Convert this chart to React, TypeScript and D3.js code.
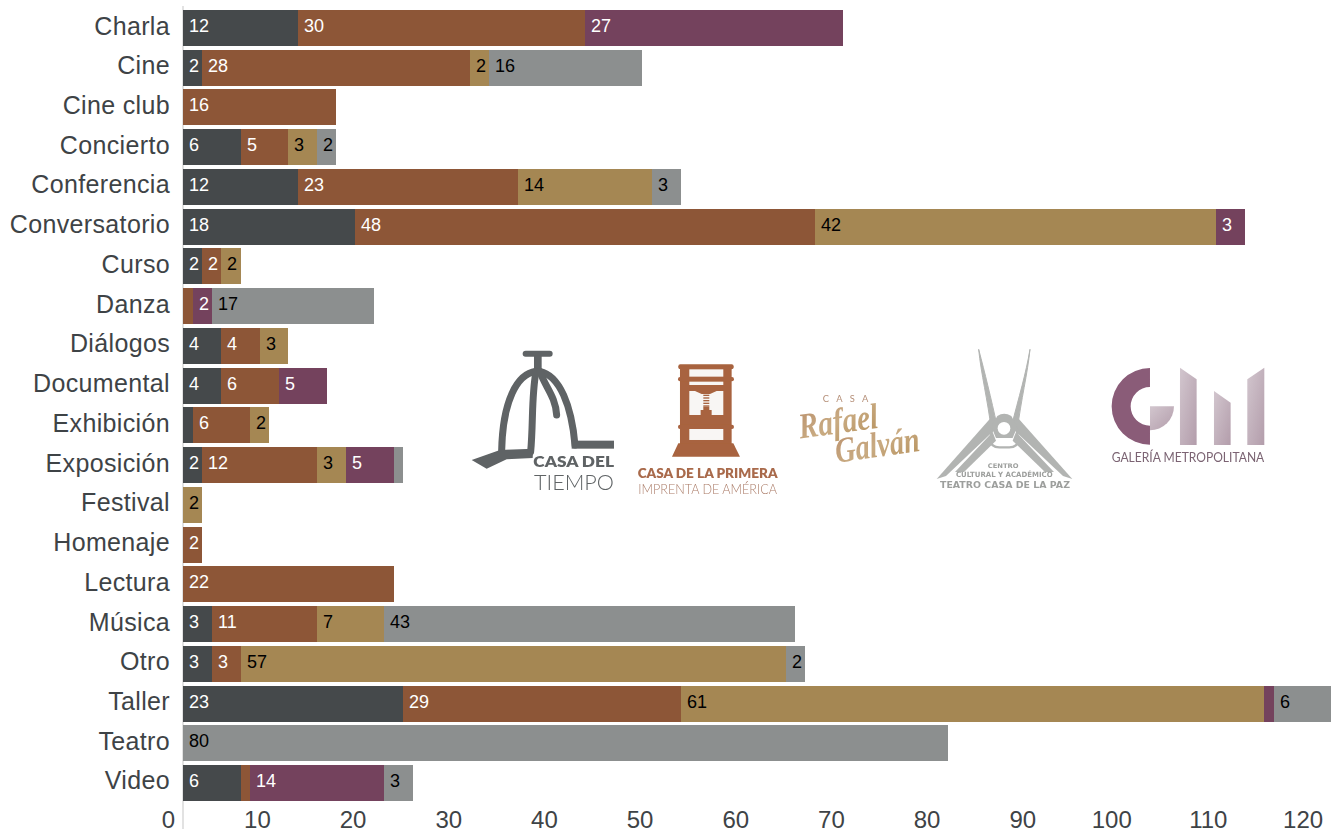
import React from "react";
import * as d3 from "d3";

const categories = ["Charla","Cine","Cine club","Concierto","Conferencia","Conversatorio","Curso","Danza","Diálogos","Documental","Exhibición","Exposición","Festival","Homenaje","Lectura","Música","Otro","Taller","Teatro","Video"];
const casaDelTiempo =   [12,2,0,6,12,18,2,0,4,4,1,2,0,0,0,3,3,23,0,6];
const primeraImprenta = [30,28,16,5,23,48,2,1,4,6,6,12,0,2,22,11,3,29,0,1];
const rafaelGalvan =    [0,2,0,3,14,42,2,0,3,0,2,3,2,0,0,7,57,61,0,0];
const galeria =         [27,0,0,0,0,3,0,2,0,5,0,5,0,0,0,0,0,1,0,14];
const teatroPaz =       [0,16,0,2,3,0,0,17,0,0,0,1,0,0,0,43,2,6,80,3];
const xTicks = [0,10,20,30,40,50,60,70,80,90,100,110,120];
const seriesKeys = ["a","b","c","d","e"];
const seriesColors = ["#45494b","#8d5637","#a58753","#74425d","#8c8f8f"];
const labelColors = ["#ffffff","#ffffff","#000000","#ffffff","#000000"];

const rows = categories.map((c, i) => ({
  category: c,
  a: casaDelTiempo[i], b: primeraImprenta[i], c: rafaelGalvan[i], d: galeria[i], e: teatroPaz[i],
}));

const FONT = "'Liberation Sans', Arial, sans-serif";
const LOGO_FONT = "Lato, 'Open Sans', sans-serif";
const INK = "#3e4346";

function Logos() {
  const g1 = "#5f6365";
  const g2 = "#a8633f";
  const g4 = "#b2b4b2";
  const paper = "#f8f6f4";
  return (
    <g>
      <defs>
        <filter id="soft" x="-5%" y="-5%" width="110%" height="110%"><feGaussianBlur stdDeviation="0.35" /></filter>
        <linearGradient id="gold" x1="0" y1="0" x2="1" y2="1">
          <stop offset="0" stopColor="#b98f6c" /><stop offset="0.5" stopColor="#c9ab82" /><stop offset="1" stopColor="#b6915c" />
        </linearGradient>
        <linearGradient id="mauve" x1="0" y1="0" x2="1" y2="1">
          <stop offset="0" stopColor="#d2c6ce" /><stop offset="1" stopColor="#b39dab" />
        </linearGradient>
      </defs>
      <g filter="url(#soft)">
        <g transform="translate(460,330) scale(0.3333)">
          {/* Casa del Tiempo */}
          <rect x={188} y={62} width={90} height={18} rx={9} fill={g1} />
          <rect x={222} y={78} width={23} height={50} fill={g1} />
          <g fill="none" stroke={g1} strokeWidth={21} strokeLinecap="round">
            <path d="M228 124 C170 132 128 215 125 362" />
            <path d="M238 124 C300 135 335 230 345 345" />
            <path d="M228 125 C214 200 220 280 212 365" />
            <path d="M240 125 C255 170 287 200 290 255" />
          </g>
          <rect x={335} y={332} width={127} height={24} fill={g1} />
          <polygon points="35,390 120,360 220,356 218,384 140,388 80,416" fill={g1} />
          <text x={220} y={412} fontSize={44} fontWeight={800} fill={g1} fontFamily={LOGO_FONT} textLength={242} lengthAdjust="spacingAndGlyphs">CASA DEL</text>
          <text x={222} y={480} fontSize={62} fontWeight={300} fill={g1} fontFamily={LOGO_FONT} textLength={240} lengthAdjust="spacingAndGlyphs">TIEMPO</text>

          {/* Casa de la Primera Imprenta */}
          <rect x={655} y={103} width={166} height={15} rx={6} fill={g2} />
          <rect x={660} y={110} width={155} height={250} fill={g2} />
          <rect x={654} y={141} width={168} height={13} rx={6} fill={g2} />
          <rect x={654} y={284} width={168} height={13} rx={6} fill={g2} />
          <polygon points="655,340 820,340 840,380 636,380" fill={g2} />
          <rect x={688} y={118} width={102} height={22} fill={paper} />
          <rect x={688} y={155} width={102} height={10} fill={paper} />
          <rect x={688} y={183} width={102} height={72} fill={paper} />
          <polygon points="705,183 770,183 750,192 725,192" fill={g2} />
          {[194,202,210,218,226].map((y) => <rect key={y} x={730} y={y} width={18} height={4} fill={g2} />)}
          <rect x={730} y={230} width={18} height={10} fill={g2} />
          <rect x={722} y={240} width={33} height={15} fill={g2} />
          <rect x={688} y={297} width={102} height={33} fill={paper} />
          <text x={533} y={445} fontSize={38} fontWeight={800} fill="#a96a4b" fontFamily={LOGO_FONT} textLength={420} lengthAdjust="spacingAndGlyphs">CASA DE LA PRIMERA</text>
          <text x={535} y={492} fontSize={38} fontWeight={300} fill="#ab7c68" fontFamily={LOGO_FONT} textLength={416} lengthAdjust="spacingAndGlyphs">IMPRENTA DE AMÉRICA</text>

          {/* Casa Rafael Galván */}
          <text x={1088} y={216} fontSize={28} fill="#b58f78" fontFamily={LOGO_FONT} textLength={137} fontWeight={400}>CASA</text>
          <text transform="rotate(-8 1020 320)" x={1020} y={326} fontSize={108} fontWeight={700} fontStyle="italic" fill="url(#gold)" fontFamily="'Liberation Serif', serif" textLength={240} lengthAdjust="spacingAndGlyphs">Rafael</text>
          <text transform="rotate(-8 1130 395)" x={1130} y={398} fontSize={108} fontWeight={700} fontStyle="italic" fill="url(#gold)" fontFamily="'Liberation Serif', serif" textLength={255} lengthAdjust="spacingAndGlyphs">Galván</text>
        </g>

        <g transform="translate(920,330) scale(0.3333)">
          {/* Teatro Casa de la Paz */}
          <path d="M176 58 C195 130 212 200 232 290 L214 300 C203 210 183 130 176 58 Z" fill={g4} stroke={g4} strokeWidth={3} />
          <path d="M330 58 C318 130 297 200 274 290 L292 300 C303 210 323 130 330 58 Z" fill={g4} stroke={g4} strokeWidth={3} />
          <polygon points="50,447 214,262 226,298 78,438" fill={g4} />
          <polygon points="457,447 292,262 280,298 429,438" fill={g4} />
          <polygon points="105,426 218,306 228,332 132,426" fill={g4} />
          <polygon points="402,426 288,306 278,332 375,426" fill={g4} />
          <path d="M216 292 L212 330 Q212 352 238 352 L268 352 Q294 352 294 330 L290 292" fill="none" stroke={g4} strokeWidth={7} />
          <path d="M232 258 Q252 244 274 258 L292 290 L278 324 L228 324 L214 290 Z" fill={g4} />
          <circle cx={252} cy={295} r={19} fill="#ffffff" />
          <g fontFamily="'DejaVu Sans', sans-serif" fontWeight={700} fill="#9d9f9d">
            <text x={203} y={414} fontSize={19} textLength={93} lengthAdjust="spacingAndGlyphs">CENTRO</text>
            <text x={108} y={442} fontSize={22} textLength={290} lengthAdjust="spacingAndGlyphs">CULTURAL Y ACADÉMICO</text>
            <text x={60} y={475} fontSize={26} textLength={390} lengthAdjust="spacingAndGlyphs">TEATRO CASA DE LA PAZ</text>
          </g>

          {/* Galería Metropolitana */}
          <path d={d3.arc()({ innerRadius: 58, outerRadius: 115, startAngle: Math.PI, endAngle: 2 * Math.PI }) || ""} transform="translate(690,229)" fill="#8a5b78" />
          <path d={d3.arc()({ innerRadius: 0, outerRadius: 72, startAngle: Math.PI / 2, endAngle: Math.PI }) || ""} transform="translate(690,229)" fill="url(#mauve)" />
          <polygon points="780,113 830,148 830,345 780,345" fill="url(#mauve)" />
          <polygon points="882,183 932,218 932,345 882,345" fill="url(#mauve)" />
          <polygon points="982,148 1033,113 1033,345 982,345" fill="url(#mauve)" />
          <text x={575} y={397} fontSize={38} fontWeight={400} fill="#7b6473" fontFamily={LOGO_FONT} textLength={458} lengthAdjust="spacingAndGlyphs">GALERÍA METROPOLITANA</text>
        </g>
      </g>
    </g>
  );
}

export default function App() {
  const x = d3.scaleLinear().domain([0, 120]).range([183.1, 1331.1]);
  const y = d3.scaleBand<string>().domain(categories).range([10, 801]).paddingInner(0.094);
  const stacked = d3.stack<any>().keys(seriesKeys)(rows);
  return (
    <svg width={1333} height={829} viewBox="0 0 1333 829" style={{ position: "absolute", left: 0, top: 0, background: "#fff", fontFamily: FONT }}>
      <Logos />
      <line x1={183} x2={183} y1={6} y2={829} stroke="#d8d8d8" strokeWidth={1.5} />
      {stacked.map((layer, si) => (
        <g key={layer.key}>
          {layer.map((d, i) => {
            const v = d[1] - d[0];
            if (!v) return null;
            const top = Math.round(y(categories[i])!);
            const x0 = Math.round(x(d[0]));
            const x1 = Math.round(x(d[1]));
            return (
              <g key={i}>
                <rect x={x0} y={top} width={x1 - x0} height={36} fill={seriesColors[si]} shapeRendering="crispEdges" />
                {v > 1 && (
                  <text x={x0 + 6} y={top + 22} fontSize={18} fill={labelColors[si]}>{v}</text>
                )}
              </g>
            );
          })}
        </g>
      ))}
      {categories.map((c) => (
        <text key={c} x={170} y={y(c)! + y.bandwidth() / 2 + 6.5} textAnchor="end" fontSize={25} letterSpacing={0.35} fill={INK}>{c}</text>
      ))}
      {xTicks.map((t) => (
        <text key={t} x={x(t) - 8} y={828} textAnchor="end" fontSize={24} fill={INK}>{t}</text>
      ))}
    </svg>
  );
}
